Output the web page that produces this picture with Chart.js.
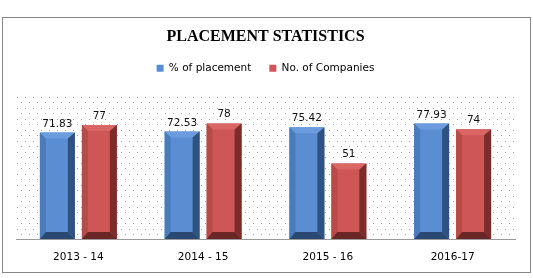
<!DOCTYPE html>
<html>
<head>
<meta charset="utf-8">
<script src="https://cdn.jsdelivr.net/npm/chart.js@4.4.0/dist/chart.umd.min.js"></script>
<style>
  html, body { margin: 0; padding: 0; background: #fff; }
  #wrap { width: 533px; height: 278px; }
</style>
</head>
<body>
<div id="wrap"><canvas id="chart" width="533" height="278"></canvas></div>
<script>
// Values
const years = ['2013 - 14', '2014 - 15', '2015 - 16', '2016-17'];
const placement = [71.83, 72.53, 75.42, 77.93];
const companies = [77, 78, 51, 74];
const placementLabels = ['71.83', '72.53', '75.42', '77.93'];
const companyLabels = ['77', '78', '51', '74'];

// Bevel colours for each series: face, top, left, right, bottom
const bevels = [
    { face: '#5a8dd2', top: '#6c9cdd', left: '#4a7bbb', right: '#2f5381', bottom: '#2a4972' },
    { face: '#cf5656', top: '#d96665', left: '#b84a48', right: '#7b2c2b', bottom: '#6a2625' },
];

// White page, outer frame and the dotted plot area
const backgroundPlugin = {
    id: 'background',
    beforeDraw(chart) {
        const ctx = chart.ctx;
        ctx.save();
        ctx.fillStyle = '#fff';
        ctx.fillRect(0, 0, chart.width, chart.height);
        ctx.strokeStyle = '#878787';
        ctx.lineWidth = 1;
        ctx.strokeRect(2.5, 17.5, 528, 255);

        const a = chart.chartArea;
        ctx.fillStyle = '#a2a2a2';
        let row = 0;
        for (let y = a.top + 1; y < a.bottom - 1; y = a.top + 1 + Math.floor(++row * 5.5)) {
            const off = row % 2 ? 4 : 0;
            for (let x = a.left + 1 + off; x < a.right - 1; x += 8) {
                ctx.fillRect(x, Math.round(y), 1, 1);
            }
        }
        ctx.restore();
    },
};

// Bevelled bar edges and value labels
const bevelPlugin = {
    id: 'bevel',
    afterDatasetsDraw(chart) {
        const ctx = chart.ctx;
        ctx.save();
        chart.data.datasets.forEach((ds, i) => {
            const c = bevels[i];
            chart.getDatasetMeta(i).data.forEach((el, j) => {
                const p = el.getProps(['x', 'y', 'base', 'width'], true);
                const L = p.x - p.width / 2, R = p.x + p.width / 2;
                const T = p.y, B = p.base;
                const dl = 6, dr = 7, dt = 6, db = 7;
                const poly = (pts, col) => {
                    ctx.beginPath();
                    ctx.moveTo(pts[0][0], pts[0][1]);
                    for (let k = 1; k < pts.length; k++) ctx.lineTo(pts[k][0], pts[k][1]);
                    ctx.closePath();
                    ctx.fillStyle = col;
                    ctx.fill();
                };
                poly([[L, T], [R, T], [R - dr, T + dt], [L + dl, T + dt]], c.top);
                poly([[L, T], [L + dl, T + dt], [L + dl, B - db], [L, B]], c.left);
                poly([[R, T], [R, B], [R - dr, B - db], [R - dr, T + dt]], c.right);
                poly([[L, B], [L + dl, B - db], [R - dr, B - db], [R, B]], c.bottom);

                ctx.fillStyle = '#111';
                ctx.font = '10.5px "DejaVu Sans"';
                ctx.textAlign = 'center';
                ctx.textBaseline = 'alphabetic';
                ctx.fillText(ds.valueLabels[j], p.x, T - 6);
            });
        });
        ctx.restore();
    },
};

// Extra space under the legend, like the original gap above the plot
const legendGapPlugin = {
    id: 'legendGap',
    beforeInit(chart) {
        const legend = chart.legend;
        if (!legend || legend._gapPatched) return;
        const fit = legend.fit;
        legend.fit = function () {
            fit.call(this);
            this.height += 12.5;
        };
        legend._gapPatched = true;
    },
};

Chart.defaults.color = '#000';
Chart.defaults.font.family = '"DejaVu Sans"';

new Chart(document.getElementById('chart'), {
    type: 'bar',
    plugins: [backgroundPlugin, bevelPlugin, legendGapPlugin],
    data: {
        labels: years,
        datasets: [
            {
                label: '% of placement',
                data: placement,
                valueLabels: placementLabels,
                backgroundColor: bevels[0].face,
                borderColor: '#385d8a',
                borderWidth: 0,
                categoryPercentage: 0.673,
                barPercentage: 0.833,
            },
            {
                label: 'No. of Companies',
                data: companies,
                valueLabels: companyLabels,
                backgroundColor: bevels[1].face,
                borderColor: '#8c3836',
                borderWidth: 0,
                categoryPercentage: 0.673,
                barPercentage: 0.833,
            },
        ],
    },
    options: {
        responsive: false,
        animation: false,
        layout: { padding: { left: 16, right: 18, top: 0, bottom: 10 } },
        plugins: {
            tooltip: { enabled: false },
            title: {
                display: true,
                text: 'PLACEMENT STATISTICS',
                color: '#000',
                font: { family: '"Liberation Serif"', size: 16, weight: 'bold', lineHeight: 1 },
                padding: { top: 29, bottom: 0 },
            },
            legend: {
                display: true,
                position: 'top',
                labels: {
                    boxWidth: 7,
                    boxHeight: 7,
                    padding: 18,
                    color: '#000',
                    font: { size: 10.5 },
                },
            },
        },
        scales: {
            x: {
                grid: { display: false, drawTicks: false },
                border: { display: true, color: '#9a9a9a' },
                ticks: { padding: 12, font: { size: 10.5 }, color: '#000' },
                afterFit(scale) { scale.height = 29; },
            },
            y: {
                display: false,
                min: 0,
                max: 96.5,
            },
        },
    },
});
</script>
</body>
</html>
